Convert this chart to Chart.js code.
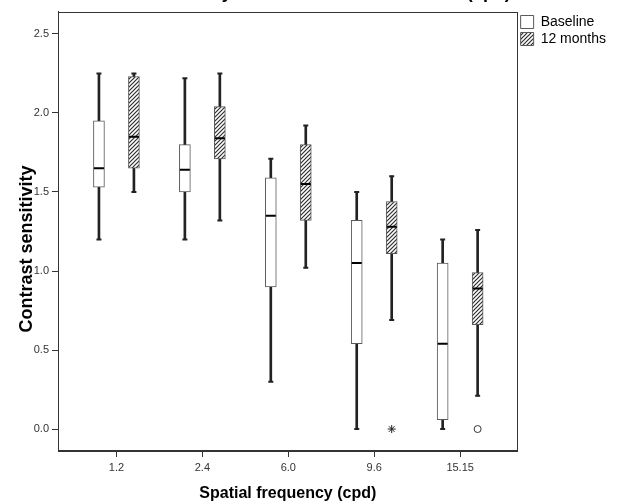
<!DOCTYPE html>
<html>
<head>
<meta charset="utf-8">
<script src="https://cdn.jsdelivr.net/npm/chart.js@4/dist/chart.umd.min.js"></script>
<style>
html,body{margin:0;padding:0;background:#fff;overflow:hidden}
#wrap{position:relative;width:643px;height:504px}
</style>
</head>
<body>
<div id="wrap"><canvas id="c"></canvas></div>
<script>
// ---- data ----
const categories = ['1.2', '2.4', '6.0', '9.6', '15.15'];
const seriesLabels = ['Baseline', '12 months'];

const baselineMin    = [1.20, 1.20, 0.30, 0.00, 0.00];
const baselineQ1     = [1.53, 1.50, 0.90, 0.54, 0.06];
const baselineMedian = [1.65, 1.64, 1.35, 1.05, 0.54];
const baselineQ3     = [1.95, 1.80, 1.59, 1.32, 1.05];
const baselineMax    = [2.25, 2.22, 1.71, 1.50, 1.20];

const month12Min     = [1.50, 1.32, 1.02, 0.69, 0.21];
const month12Q1      = [1.65, 1.71, 1.32, 1.11, 0.66];
const month12Median  = [1.85, 1.84, 1.55, 1.28, 0.89];
const month12Q3      = [2.23, 2.04, 1.80, 1.44, 0.99];
const month12Max     = [2.25, 2.25, 1.92, 1.60, 1.26];

const month12Extremes = [null, null, null, 0.00, null]; // asterisk
const month12Outliers = [null, null, null, null, 0.00]; // circle

const yTickValues = [0, 0.5, 1.0, 1.5, 2.0, 2.5];

// ---- styling ----
const FONT = "'Liberation Sans', Arial, Helvetica, sans-serif";
const GROUP_OFFSET = 0.2035;

function makeHatch() {
  const s = 4;
  const c = document.createElement('canvas');
  c.width = s; c.height = s;
  const g = c.getContext('2d');
  g.fillStyle = '#ffffff';
  g.fillRect(0, 0, s, s);
  g.strokeStyle = '#2e2e2e';
  g.lineWidth = 1.2;
  g.beginPath();
  g.moveTo(0, s); g.lineTo(s, 0);
  g.moveTo(-1, 1); g.lineTo(1, -1);
  g.moveTo(s - 1, s + 1); g.lineTo(s + 1, s - 1);
  g.stroke();
  return g.createPattern(c, 'repeat');
}
const hatch = makeHatch();

function seriesDatasets(label, fill, dx, mins, q1s, meds, q3s, maxs) {
  const xs = categories.map((_, i) => i + dx);
  return [
    {
      type: 'bar', label: label,
      data: xs.map((x, i) => ({ x: x, y: [q1s[i], q3s[i]] })),
      backgroundColor: fill, borderColor: '#5a5a5a', borderWidth: 1,
      borderSkipped: false, barThickness: 11, grouped: false, order: 2
    },
    {
      type: 'bar', label: label + ' whisker',
      data: xs.map((x, i) => ({ x: x, y: [mins[i], maxs[i]] })),
      backgroundColor: '#222', borderWidth: 0, barThickness: 2, grouped: false, order: 3
    },
    {
      type: 'scatter', label: label + ' caps',
      data: xs.flatMap((x, i) => [{ x: x, y: mins[i] }, { x: x, y: maxs[i] }]),
      pointStyle: 'line', pointRadius: 2.5, pointBorderColor: '#222', pointBorderWidth: 2,
      pointHoverRadius: 2.5, order: 1
    },
    {
      type: 'scatter', label: label + ' median',
      data: xs.map((x, i) => ({ x: x, y: meds[i] })),
      pointStyle: 'line', pointRadius: 5, pointBorderColor: '#000', pointBorderWidth: 2,
      pointHoverRadius: 5, order: 1
    }
  ];
}

const datasets = [
  ...seriesDatasets(seriesLabels[0], '#ffffff', -GROUP_OFFSET,
    baselineMin, baselineQ1, baselineMedian, baselineQ3, baselineMax),
  ...seriesDatasets(seriesLabels[1], hatch, GROUP_OFFSET,
    month12Min, month12Q1, month12Median, month12Q3, month12Max),
  {
    type: 'scatter', label: '12 months extremes',
    data: categories.map((_, i) => month12Extremes[i] === null ? null : ({ x: i + GROUP_OFFSET, y: month12Extremes[i] })).filter(p => p),
    pointStyle: 'star', pointRadius: 4, pointBorderColor: '#222', pointBorderWidth: 1, order: 0
  },
  {
    type: 'scatter', label: '12 months outliers',
    data: categories.map((_, i) => month12Outliers[i] === null ? null : ({ x: i + GROUP_OFFSET, y: month12Outliers[i] })).filter(p => p),
    pointStyle: 'circle', pointRadius: 3.5, pointBackgroundColor: '#fff', pointBorderColor: '#333', pointBorderWidth: 1, order: 0
  }
];

const framePlugin = {
  id: 'frame',
  afterDatasetsDraw(chart) {
    const a = chart.chartArea, ctx = chart.ctx;
    ctx.save();
    ctx.strokeStyle = '#333';
    ctx.lineWidth = 1;
    ctx.strokeRect(Math.round(a.left) + 0.5, Math.round(a.top) + 0.5,
                   Math.round(a.right - a.left) - 1, Math.round(a.bottom - a.top) - 1);
    ctx.restore();
  }
};

new Chart(document.getElementById('c'), {
  type: 'bar',
  data: { datasets: datasets },
  plugins: [framePlugin],
  options: {
    responsive: true,
    maintainAspectRatio: false,
    animation: false,
    devicePixelRatio: 1,
    layout: { padding: { left: 0, right: 27, top: 0, bottom: 0 } },
    plugins: {
      tooltip: { enabled: false },
      title: {
        display: true,
        text: 'Contrast sensitivity at baseline and 12 months (cpd)',
        fullSize: false,
        color: '#000',
        font: { family: FONT, size: 18, weight: 'bold' },
        padding: { top: -18, bottom: 8.4 }
      },
      legend: {
        display: true,
        position: 'right',
        align: 'start',
        fullSize: false,
        labels: {
          boxWidth: 13, boxHeight: 13, padding: 3,
          color: '#000',
          font: { family: FONT, size: 14 },
          filter: (item) => seriesLabels.includes(item.text)
        }
      }
    },
    scales: {
      x: {
        type: 'linear',
        offset: false,
        min: -0.680,
        max: 4.669,
        afterBuildTicks: (s) => { s.ticks = categories.map((_, i) => ({ value: i })); },
        afterFit: (s) => { s.height = 53; },
        ticks: {
          color: '#333', font: { family: FONT, size: 11 }, padding: 4,
          autoSkip: false, maxRotation: 0,
          callback: (v) => categories[v]
        },
        grid: { display: true, drawOnChartArea: false, drawTicks: true, tickLength: 6, color: '#333', offset: false },
        border: { display: true, color: '#333', width: 1 },
        title: {
          display: true, text: 'Spatial frequency (cpd)', color: '#000',
          font: { family: FONT, size: 16, weight: 'bold' },
          padding: { top: 0, bottom: 0.5 }
        }
      },
      y: {
        type: 'linear',
        min: -0.139,
        max: 2.639,
        afterBuildTicks: (s) => { s.ticks = yTickValues.map(v => ({ value: v })); },
        afterFit: (s) => { s.width = 58; },
        ticks: {
          color: '#333', font: { family: FONT, size: 11 }, padding: 3,
          callback: (v) => Number(v).toFixed(1)
        },
        grid: { display: true, drawOnChartArea: false, drawTicks: true, tickLength: 6, color: '#333' },
        border: { display: true, color: '#333', width: 1 },
        title: {
          display: true, text: 'Contrast sensitivity       ', color: '#000',
          font: { family: FONT, size: 18, weight: 'bold' },
          padding: { top: 16.2, bottom: 0 }
        }
      }
    }
  }
});
</script>
</body>
</html>
